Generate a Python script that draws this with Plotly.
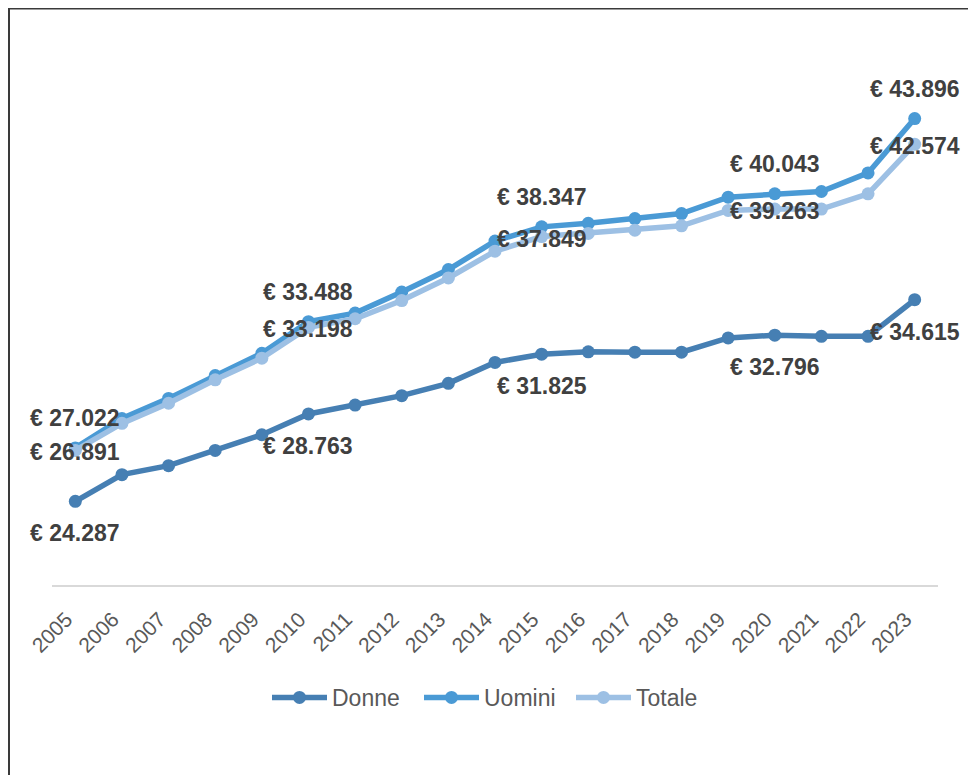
import plotly.graph_objects as go

years = list(range(2005, 2024))
year_labels = [str(y) for y in years]

donne = [24287, 25652, 26112, 26895, 27698, 28763, 29220, 29700, 30330, 31400,
         31825, 31944, 31930, 31930, 32660, 32796, 32740, 32740, 34615]
uomini = [27022, 28530, 29560, 30730, 31870, 33488, 33930, 35010, 36160, 37620,
          38347, 38530, 38770, 39030, 39870, 40043, 40160, 41110, 43896]
totale = [26891, 28280, 29310, 30510, 31620, 33198, 33640, 34570, 35730, 37100,
          37849, 38010, 38180, 38400, 39190, 39263, 39260, 40040, 42574]

label_idx = [0, 5, 10, 15, 18]

series = [
    ("Donne", donne, "#467fb3", -32),
    ("Uomini", uomini, "#4a9ad5", 30),
    ("Totale", totale, "#9dc0e4", -2),
]


def fmt(v):
    return "€ " + f"{v:,}".replace(",", ".")


fig = go.Figure()
annotations = []
for name, vals, color, shift in series:
    fig.add_trace(go.Scatter(
        x=years, y=vals, name=name, mode="lines+markers",
        line=dict(color=color, width=5.5),
        marker=dict(color=color, size=13),
        cliponaxis=False,
    ))
    for i in label_idx:
        annotations.append(dict(
            x=years[i], y=vals[i], text=fmt(vals[i]), showarrow=False,
            yshift=shift, xanchor="center", yanchor="middle",
            font=dict(family="Liberation Sans", size=23, color="#404040",
                      weight="bold"),
        ))

# figure sits at (8, 8) in the page
W, H = 960, 767
L, R, T, B = 44, 30, 89, 190
pw, ph = W - L - R, H - T - B


def px(x):
    return (x - L) / pw


def py(y):
    return (H - B - y) / ph


shapes = [
    dict(type="line", xref="paper", yref="paper", x0=px(0), x1=px(W + 5),
         y0=py(0.5), y1=py(0.5), line=dict(color="#3a3a3a", width=2)),
    dict(type="line", xref="paper", yref="paper", x0=px(1), x1=px(1),
         y0=py(0), y1=py(H + 5), line=dict(color="#3a3a3a", width=2)),
]

fig.update_layout(
    width=W, height=H,
    margin=dict(l=L, r=R, t=T, b=B),
    paper_bgcolor="white", plot_bgcolor="white",
    font=dict(family="Liberation Sans", color="#595959"),
    showlegend=True,
    legend=dict(orientation="h", x=0.5, xanchor="center", y=-0.2305,
                yanchor="middle", font=dict(size=23, color="#595959"),
                itemwidth=55, entrywidth=82, entrywidthmode="pixels"),
    annotations=annotations,
    shapes=shapes,
    xaxis=dict(range=[years[0] - 0.5, years[-1] + 0.5], showgrid=False,
               showline=True, linecolor="#d9d9d9", linewidth=1.5, ticks="",
               tickmode="array", tickvals=years, ticktext=year_labels,
               tickangle=-45, tickfont=dict(size=21, color="#595959"),
               ticklabelstandoff=12, ticklabelshift=-9, zeroline=False),
    yaxis=dict(range=[20000, 45000], showgrid=False, showticklabels=False,
               zeroline=False, showline=False, ticks=""),
)

fig.write_html("out.html")
